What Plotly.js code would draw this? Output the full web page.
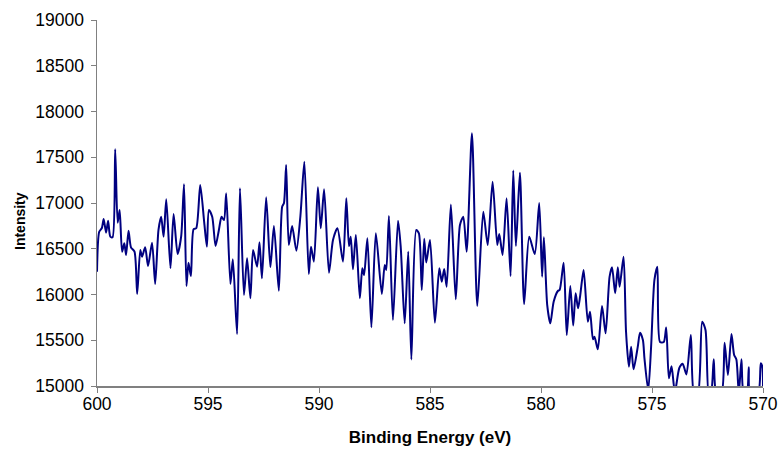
<!DOCTYPE html>
<html>
<head>
<meta charset="utf-8">
<script src="https://cdn.plot.ly/plotly-3.0.1.min.js"></script>
<style>
  html, body { margin: 0; padding: 0; background: #ffffff; }
  #chart { width: 781px; height: 453px; }
</style>
</head>
<body>
<div id="chart"></div>
<script>
// Binding energy (eV)
const bindingEnergy = [
  600.00, 599.90, 599.78, 599.70, 599.59, 599.50, 599.40, 599.30, 599.18, 599.07,
  598.98, 598.87, 598.77, 598.69, 598.58, 598.47, 598.31, 598.19, 598.05, 597.97,
  597.83, 597.70, 597.52, 597.38, 597.23, 597.11, 597.00, 596.88, 596.69, 596.55,
  596.37, 596.21, 596.08, 595.97, 595.88, 595.77, 595.65, 595.53, 595.35, 595.17,
  595.05, 594.96, 594.81, 594.66, 594.51, 594.39, 594.28, 594.18, 593.99, 593.88,
  593.69, 593.56, 593.38, 593.24, 593.09, 592.97, 592.79, 592.68, 592.57, 592.38,
  592.19, 592.03, 591.81, 591.66, 591.58, 591.48, 591.36, 591.21, 591.02, 590.84,
  590.66, 590.46, 590.36, 590.23, 590.05, 589.92, 589.77, 589.55, 589.37, 589.17,
  588.92, 588.77, 588.65, 588.57, 588.47, 588.34, 588.16, 588.05, 587.97, 587.82,
  587.64, 587.44, 587.17, 587.04, 586.97, 586.85, 586.67, 586.44, 586.32, 586.14,
  585.98, 585.84, 585.62, 585.50, 585.37, 585.26, 585.17, 585.00, 584.78, 584.58,
  584.47, 584.36, 584.25, 584.06, 583.84, 583.65, 583.50, 583.35, 583.11, 582.87,
  582.60, 582.40, 582.18, 581.97, 581.88, 581.73, 581.55, 581.37, 581.25, 581.13,
  580.95, 580.76, 580.53, 580.28, 580.08, 579.95, 579.87, 579.72, 579.58, 579.43,
  579.24, 579.16, 578.98, 578.84, 578.68, 578.55, 578.44, 578.33, 578.24, 578.08,
  577.89, 577.79, 577.66, 577.59, 577.44, 577.25, 577.09, 576.91, 576.80, 576.66,
  576.54, 576.46, 576.28, 576.17, 576.04, 575.94, 575.83, 575.64, 575.54, 575.41,
  575.34, 575.17, 575.04, 574.89, 574.76, 574.64, 574.47, 574.36, 574.24, 574.12,
  573.97, 573.77, 573.62, 573.45, 573.25, 573.10, 572.94, 572.74, 572.59, 572.44,
  572.33, 572.22, 572.10, 571.87, 571.73, 571.58, 571.42, 571.30, 571.20, 571.09,
  570.97, 570.87, 570.73, 570.64, 570.58, 570.22, 570.10, 570.03, 570.00
];
// Intensity (counts)
const intensity = [
  16250, 16686, 16727, 16825, 16676, 16807, 16632, 16625, 17587, 16785,
  16924, 16468, 16560, 16432, 16697, 16516, 16468, 16006, 16486, 16413,
  16516, 16312, 16566, 16115, 16705, 16850, 16632, 17041, 16286, 16880,
  16443, 16632, 17205, 16093, 16348, 16202, 16713, 16724, 17197, 16785,
  16523, 16924, 16850, 16530, 16705, 16850, 16814, 17106, 16115, 16385,
  15568, 17161, 15995, 16396, 15959, 16486, 16304, 16571, 16177, 17063,
  16297, 16749, 16042, 16960, 16997, 17416, 16541, 16749, 16479, 16850,
  17452, 16224, 16523, 16359, 17172, 16724, 17151, 16238, 16596, 16724,
  16359, 17052, 16530, 16632, 16276, 16651, 15959, 16286, 16213, 16614,
  15642, 16669, 16006, 16323, 16268, 16858, 15721, 16807, 16523, 15685,
  16468, 15290, 16705, 16669, 16049, 16609, 16350, 16596, 15692, 16286,
  16140, 16279, 16085, 16984, 15948, 16760, 16850, 16468, 17762, 15874,
  16905, 16541, 17233, 16541, 16661, 16432, 17052, 16202, 17356, 16530,
  17331, 15896, 16632, 16443, 17000, 16195, 16625, 15885, 15685, 15921,
  16038, 16049, 16348, 15557, 16093, 15661, 16013, 15849, 15976, 16268,
  15703, 15812, 15510, 15539, 15401, 15874, 15576, 16195, 16297, 16013,
  16297, 16085, 16413, 15593, 15211, 15430, 15183, 15430, 15583, 15503,
  15303, 14956, 15430, 16159, 16304, 15481, 15481, 15639, 15084, 15215,
  14934, 15197, 15244, 15126, 15557, 14902, 14902, 15703, 15612, 14902,
  14934, 15292, 14923, 14923, 15473, 15120, 15568, 15339, 15290, 14923,
  15292, 14923, 14923, 15204, 14923, 14923, 15248, 15211, 14923
];
const xTickValues = [600, 595, 590, 585, 580, 575, 570];
const yTickValues = [15000, 15500, 16000, 16500, 17000, 17500, 18000, 18500, 19000];

const trace = {
  x: bindingEnergy,
  y: intensity,
  type: 'scatter',
  mode: 'lines',
  line: { color: '#000080', width: 2, shape: 'spline', smoothing: 0.7 },
  hoverinfo: 'x+y'
};

const fam = '"Liberation Sans", Arial, sans-serif';
const axisFont = { family: fam, size: 17.5, color: '#000000' };

const layout = {
  width: 781,
  height: 453,
  margin: { l: 97, r: 18, t: 20, b: 67 },
  paper_bgcolor: '#ffffff',
  plot_bgcolor: '#ffffff',
  showlegend: false,
  xaxis: {
    range: [600, 570],
    tickvals: xTickValues,
    ticktext: xTickValues.map(String),
    ticks: 'outside',
    ticklen: 5,
    tickcolor: '#808080',
    showline: true,
    linecolor: '#808080',
    linewidth: 1.5,
    showgrid: false,
    zeroline: false,
    tickfont: axisFont,
    ticklabelstandoff: -4,
    title: { text: 'Binding Energy (eV)', font: { family: fam, size: 17, color: '#000000', weight: 'bold' }, standoff: 18 }
  },
  yaxis: {
    range: [15000, 19000],
    tickvals: yTickValues,
    ticktext: yTickValues.map(String),
    ticks: 'outside',
    ticklen: 5,
    tickcolor: '#808080',
    showline: true,
    linecolor: '#808080',
    linewidth: 1.5,
    showgrid: false,
    zeroline: false,
    tickfont: axisFont,
    ticklabelstandoff: 3
  },
  annotations: [{
    text: 'Intensity',
    xref: 'paper', yref: 'paper',
    x: -0.1155, y: 0.451,
    xanchor: 'center', yanchor: 'middle',
    textangle: -90,
    showarrow: false,
    font: { family: fam, size: 14, color: '#000000', weight: 'bold' }
  }]
};

Plotly.newPlot('chart', [trace], layout, { displayModeBar: false, staticPlot: true });
</script>
</body>
</html>
